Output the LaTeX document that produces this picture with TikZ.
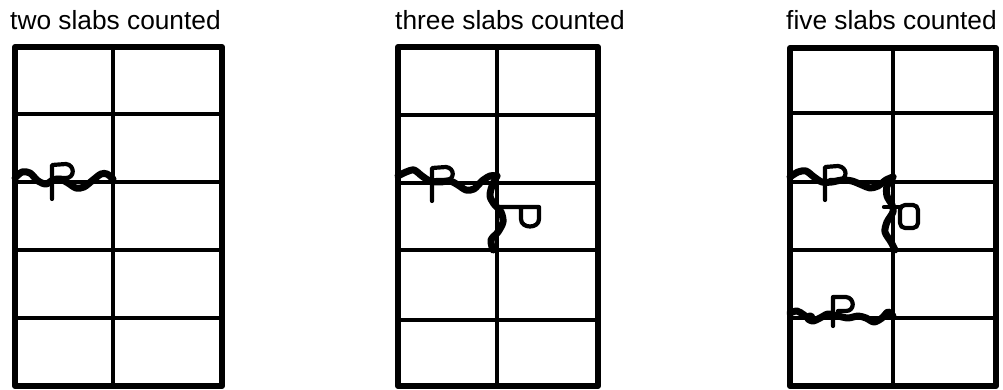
\documentclass[tikz,border=0pt]{standalone}
\usepackage{fontspec}
\setmainfont{Liberation Sans}
\begin{document}
\begin{tikzpicture}[x=1pt,y=-1pt,
  frame/.style={line width=6pt, line join=round},
  gridline/.style={line width=4.5pt},
  crack/.style={line width=7pt, line cap=round, line join=round},
  lp/.style={line width=4.2pt, line cap=round, line join=round},
  title/.style={anchor=base west, inner sep=0pt, font=\fontsize{26.3}{30}\selectfont}]
\useasboundingbox (0,0) rectangle (1003,390);

% titles
\node[title] (t1) at (10,30) {two slabs counted};
\node[title] (t2) at (395,30) {three slabs counted};
\node[title] (t3) at (786,30) {five slabs counted};

% panel 1 grid
\draw[gridline] (113,47) -- (113,386);
\foreach \y in {114,182,250,318} \draw[gridline] (15,\y) -- (222,\y);
\draw[frame] (15,47) rectangle (222,386);

% panel 2 grid
\draw[gridline] (497,47) -- (497,386);
\foreach \y in {115,183,250,320} \draw[gridline] (398,\y) -- (598,\y);
\draw[frame] (398,47) rectangle (598,386);

% panel 3 grid
\draw[gridline] (893,48) -- (893,386);
\foreach \y in {113,182,250,318} \draw[gridline] (790,\y) -- (996,\y);
\draw[frame] (790,48) rectangle (996,386);

% panel 1 crack
\draw[crack] plot[smooth] coordinates {(15,178) (22,172) (30,173) (38,181) (46,184) (53,180) (60,179) (68,183) (76,188) (84,187) (93,180) (101,174) (107,174) (113,179)};
\draw[lp] (52,199) -- (52,165) -- (66,164) .. controls (75,165) and (75,178) .. (66,178) -- (56,178);

% panel 2 cracks
\draw[crack] plot[smooth] coordinates {(398,176) (406,172) (414,170) (422,176) (430,181) (440,182) (450,181) (458,185) (466,190) (474,189) (482,181) (490,176) (497,176)};
\draw[lp] (432,201) -- (432,168) -- (446,167) .. controls (455,168) and (455,180) .. (446,180) -- (436,180);
\draw[crack] plot[smooth] coordinates {(497,176) (492,186) (490,196) (494,204) (501,212) (503,222) (498,232) (491,240) (493,250)};
\draw[lp] (497,207) -- (539,207) -- (539,219) .. controls (539,229) and (521,229) .. (521,219) -- (521,207);

% panel 3 cracks
\draw[crack] plot[smooth] coordinates {(790,177) (798,172) (806,171) (814,177) (822,182) (832,182) (842,180) (852,181) (862,185) (870,188) (878,186) (886,180) (893,177)};
\draw[lp] (825,200) -- (825,167) -- (838,166) .. controls (848,167) and (848,180) .. (838,180) -- (830,180);
\draw[crack] plot[smooth] coordinates {(893,177) (887,186) (887,196) (892,205) (893,212) (887,222) (885,232) (891,242) (895,250)};
\draw[lp] (884,207) -- (900,207);
\draw[lp, rounded corners=5pt] (900,205) rectangle (918,228);

\draw[crack] plot[smooth] coordinates {(790,313) (797,311) (804,315) (812,321) (820,318) (828,314) (838,316) (848,318) (858,316) (866,318) (874,322) (882,318) (888,312) (893,316)};
\draw[lp] (810,318) circle (3.5);
\draw[lp] (833,326) -- (833,297) -- (846,297) .. controls (855,298) and (855,311) .. (846,311) -- (838,311);
\end{tikzpicture}
\end{document}
